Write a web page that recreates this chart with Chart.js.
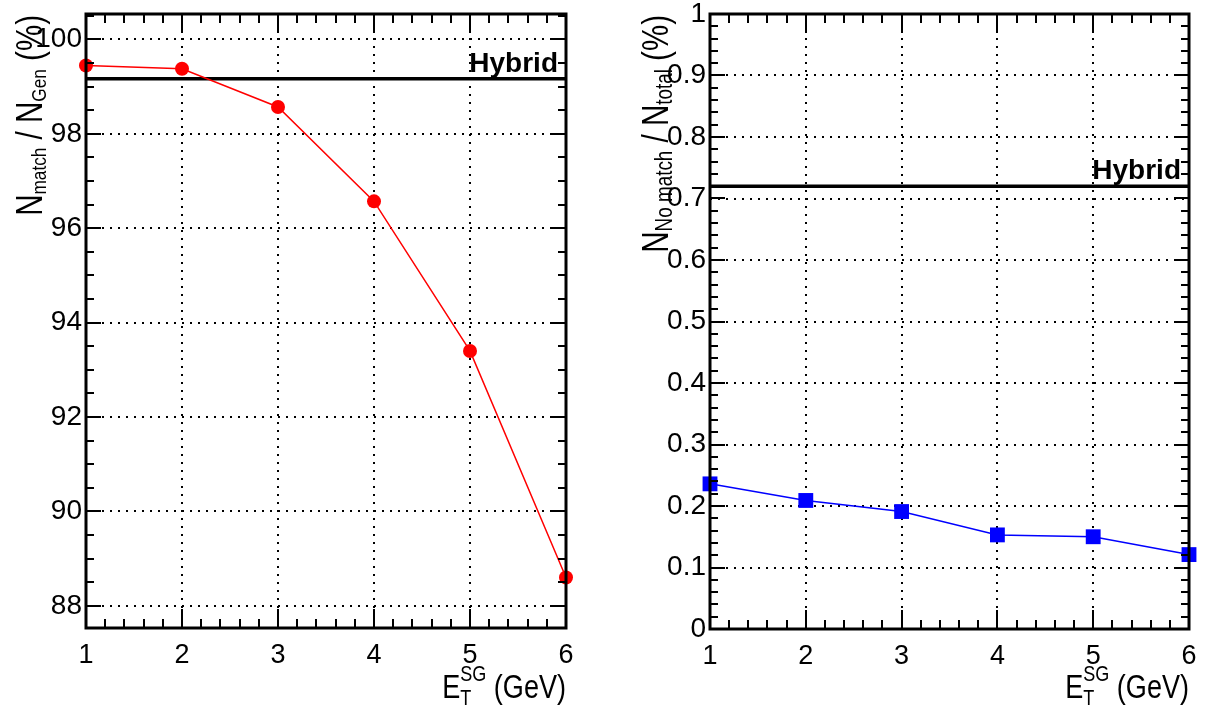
<!DOCTYPE html>
<html>
<head>
<meta charset="utf-8">
<script src="https://cdn.jsdelivr.net/npm/chart.js@4/dist/chart.umd.min.js"></script>
<style>
  html, body { margin: 0; padding: 0; background: #fff; }
  #wrap { position: relative; width: 1206px; height: 707px; }
  canvas { position: absolute; top: 0; }
  #left { left: 0; }
  #right { left: 603px; }
</style>
</head>
<body>
<div id="wrap">
  <canvas id="left" width="603" height="707"></canvas>
  <canvas id="right" width="603" height="707"></canvas>
</div>
<script>
'use strict';
// values
const energies = [1, 2, 3, 4, 5, 6];
const matchEff = [99.45, 99.38, 98.57, 96.57, 93.40, 88.60];
const noMatchFrac = [0.236, 0.209, 0.191, 0.153, 0.150, 0.121];
const hybridMatch = 99.17;
const hybridNoMatch = 0.72;
const xTickValues = [1, 2, 3, 4, 5, 6];
const leftYTicks = [88, 90, 92, 94, 96, 98, 100];
const rightYTicks = [0, 0.1, 0.2, 0.3, 0.4, 0.5, 0.6, 0.7, 0.8, 0.9, 1];

const FONT = "'Liberation Sans', Arial, Helvetica, sans-serif";
const SQUEEZE = 0.82; // titles in the original use a narrow helvetica
Chart.defaults.font.family = FONT;
Chart.defaults.color = '#000';

// draws text pieces with subscripts / superscripts, right aligned at x
function drawRich(ctx, segs, x, y) {
  let widths = segs.map(function (s) {
    ctx.font = s.s + 'px ' + FONT;
    if (s.sub !== undefined) {
      return Math.max(ctx.measureText(s.sub).width, ctx.measureText(s.sup).width);
    }
    return ctx.measureText(s.t).width;
  });
  let total = widths.reduce((a, b) => a + b, 0);
  ctx.save();
  ctx.translate(x - total * SQUEEZE, y);
  ctx.scale(SQUEEZE, 1);
  ctx.textAlign = 'left';
  ctx.textBaseline = 'alphabetic';
  let cx = 0;
  segs.forEach(function (s, i) {
    ctx.font = s.s + 'px ' + FONT;
    if (s.sub !== undefined) {
      ctx.fillText(s.sub, cx, s.dySub);
      ctx.fillText(s.sup, cx, s.dySup);
    } else {
      ctx.fillText(s.t, cx, s.dy || 0);
    }
    cx += widths[i];
  });
  ctx.restore();
}

function eachStep(min, max, step, fn) {
  let start = Math.ceil(min / step - 1e-6);
  for (let k = start; k * step <= max + 1e-9; k++) fn(k * step);
}

const framePlugin = {
  id: 'frame',
  beforeDatasetsDraw(chart, args, opts) {
    const ctx = chart.ctx, a = chart.chartArea;
    const xs = chart.scales.x, ys = chart.scales.y;
    ctx.save();
    ctx.strokeStyle = '#000';
    ctx.lineWidth = 2;
    ctx.setLineDash([2, 6]);
    ctx.beginPath();
    xs.ticks.forEach(function (t) {
      let px = Math.round(xs.getPixelForValue(t.value));
      if (px > a.left + 3 && px < a.right - 3) {
        ctx.moveTo(px, a.top); ctx.lineTo(px, a.bottom);
      }
    });
    ys.ticks.forEach(function (t) {
      let py = Math.round(ys.getPixelForValue(t.value));
      if (py > a.top + 3 && py < a.bottom - 3) {
        ctx.moveTo(a.left, py); ctx.lineTo(a.right, py);
      }
    });
    ctx.stroke();
    ctx.restore();
  },
  afterDraw(chart, args, opts) {
    const ctx = chart.ctx, a = chart.chartArea;
    const xs = chart.scales.x, ys = chart.scales.y;
    ctx.save();
    ctx.strokeStyle = '#000';
    ctx.lineWidth = 2;
    ctx.beginPath();
    // inward tick marks on all four sides
    eachStep(xs.min, xs.max, opts.xMinor, function (v) {
      let major = Math.abs(v / opts.xMajor - Math.round(v / opts.xMajor)) < 1e-6;
      let len = major ? 19 : 9;
      let px = Math.round(xs.getPixelForValue(v));
      ctx.moveTo(px, a.bottom); ctx.lineTo(px, a.bottom - len);
      ctx.moveTo(px, a.top); ctx.lineTo(px, a.top + len);
    });
    eachStep(ys.min, ys.max, opts.yMinor, function (v) {
      let major = Math.abs(v / opts.yMajor - Math.round(v / opts.yMajor)) < 1e-6;
      let len = major ? 15 : 8;
      let py = Math.round(ys.getPixelForValue(v));
      ctx.moveTo(a.left, py); ctx.lineTo(a.left + len, py);
      ctx.moveTo(a.right, py); ctx.lineTo(a.right - len, py);
    });
    ctx.stroke();
    ctx.lineWidth = 3;
    ctx.strokeRect(a.left, a.top, a.right - a.left, a.bottom - a.top);

    // hybrid label
    ctx.fillStyle = '#000';
    ctx.font = 'bold 28px ' + FONT;
    ctx.textAlign = 'right';
    ctx.textBaseline = 'alphabetic';
    ctx.fillText('Hybrid', a.right - 8, ys.getPixelForValue(opts.hybrid) - 7);

    // x title
    drawRich(ctx, [
      {t: 'E', s: 33},
      {sub: 'T', sup: 'SG', s: 22, dySub: 7, dySup: -17},
      {t: ' (GeV)', s: 33}
    ], a.right, 698);

    // y title, rotated
    ctx.translate(opts.yTitleX, 15);
    ctx.rotate(-Math.PI / 2);
    drawRich(ctx, opts.yTitle, 0, 0);
    ctx.restore();
  }
};

function makeChart(id, cfg) {
  return new Chart(document.getElementById(id), {
    type: 'line',
    data: {
      datasets: [{
        data: energies.map((e, i) => ({x: e, y: cfg.values[i]})),
        borderColor: cfg.color,
        backgroundColor: cfg.color,
        borderWidth: 1.5,
        pointStyle: cfg.pointStyle,
        pointRadius: cfg.pointRadius,
        pointBorderWidth: 0,
        clip: false,
        order: 0
      }, {
        data: [{x: energies[0], y: cfg.hybrid}, {x: energies[energies.length - 1], y: cfg.hybrid}],
        borderColor: '#000',
        borderWidth: 3.5,
        pointRadius: 0,
        order: 1
      }]
    },
    options: {
      responsive: false,
      animation: false,
      devicePixelRatio: 1,
      layout: {padding: {top: 14, right: cfg.padRight, left: 0, bottom: 0}},
      plugins: {
        legend: {display: false},
        tooltip: {enabled: false},
        frame: {
          xMajor: 1, xMinor: 0.2,
          yMajor: cfg.yMajor, yMinor: cfg.yMinor,
          hybrid: cfg.hybrid,
          yTitle: cfg.yTitle,
          yTitleX: cfg.yTitleX
        }
      },
      scales: {
        x: {
          type: 'linear',
          min: 1, max: 6,
          grid: {display: false, drawTicks: false},
          border: {display: false},
          afterBuildTicks: s => { s.ticks = xTickValues.map(v => ({value: v})); },
          afterFit: s => { s.height = cfg.xHeight; s.paddingLeft = 0; s.paddingRight = 0; },
          ticks: {font: {size: 27}, color: '#000', padding: 11, autoSkip: false, maxRotation: 0}
        },
        y: {
          type: 'linear',
          min: cfg.yMin, max: cfg.yMax,
          grid: {display: false, drawTicks: false},
          border: {display: false},
          afterBuildTicks: s => { s.ticks = cfg.yTicks.map(v => ({value: v})); },
          afterFit: s => { s.width = cfg.yWidth; s.paddingTop = 0; s.paddingBottom = 0; },
          ticks: {font: {size: 28}, color: '#000', padding: 4, autoSkip: false, callback: v => String(v)}
        }
      }
    },
    plugins: [framePlugin]
  });
}

makeChart('left', {
  values: matchEff, hybrid: hybridMatch, color: '#ff0000',
  pointStyle: 'circle', pointRadius: 7,
  yMin: 87.53, yMax: 100.54, yTicks: leftYTicks, yMajor: 2, yMinor: 0.5,
  yWidth: 86, xHeight: 79, padRight: 37, yTitleX: 42,
  yTitle: [
    {t: 'N', s: 36}, {t: 'match', s: 21, dy: 4},
    {t: ' / N', s: 36}, {t: 'Gen', s: 21, dy: 4},
    {t: ' (%)', s: 36}
  ]
});

makeChart('right', {
  values: noMatchFrac, hybrid: hybridNoMatch, color: '#0000ff',
  pointStyle: 'rect', pointRadius: 10.5,
  yMin: 0, yMax: 1, yTicks: rightYTicks, yMajor: 0.1, yMinor: 0.02,
  yWidth: 107, xHeight: 78, padRight: 17, yTitleX: 65,
  yTitle: [
    {t: 'N', s: 36}, {t: 'No match', s: 23, dy: 4},
    {t: ' / N', s: 36}, {t: 'total', s: 23, dy: 4},
    {t: ' (%)', s: 36}
  ]
});
</script>
</body>
</html>
